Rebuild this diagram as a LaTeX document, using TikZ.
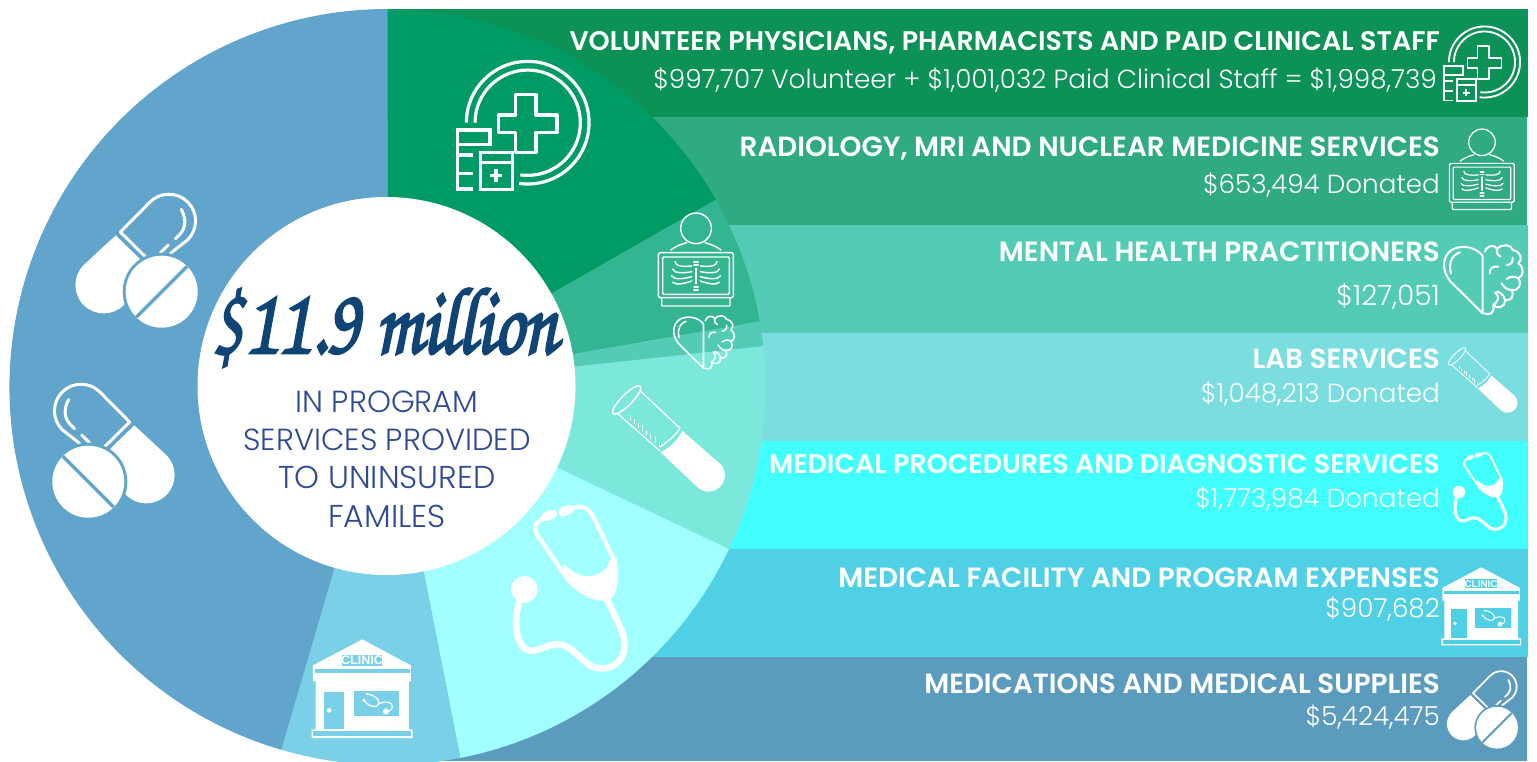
\documentclass[tikz,border=0pt]{standalone}
\usepackage{fontspec}
\setmainfont{Poppins}
\newfontfamily\headf{Poppins SemiBold}
\newfontfamily\subf{Poppins Light}
\newfontfamily\scriptf[FakeBold=3]{TeX Gyre Chorus}
\newfontfamily\clinicf{Liberation Sans Bold}
\definecolor{barA}{HTML}{0C9156}\definecolor{barB}{HTML}{2FAA82}
\definecolor{barC}{HTML}{54CCB5}\definecolor{barD}{HTML}{7ADDE0}
\definecolor{barE}{HTML}{42FFFF}\definecolor{barF}{HTML}{50D0E5}
\definecolor{barG}{HTML}{5B9CBE}
\definecolor{wedA}{HTML}{009B65}\definecolor{wedB}{HTML}{33B592}
\definecolor{wedC}{HTML}{53CBB5}\definecolor{wedD}{HTML}{7CE7DB}
\definecolor{wedE}{HTML}{A2FFFF}\definecolor{wedF}{HTML}{79D0E7}
\definecolor{wedG}{HTML}{61A4CC}
\definecolor{navy}{HTML}{0F4475}\definecolor{bluetext}{HTML}{2E4A95}
\tikzset{
  head/.style={anchor=base east,text=white,inner sep=0pt,font=\headf\fontsize{27.8}{28}\selectfont},
  headtight/.style={head,font=\headf\fontsize{26.9}{27}\selectfont},
  sub/.style={anchor=base east,text=white,inner sep=0pt,font=\subf\fontsize{26.2}{26}\selectfont},
  centretext/.style={anchor=base,text=bluetext,inner sep=0pt,font=\subf\fontsize{30.5}{30}\selectfont},
  centrewide/.style={centretext,font=\subf\fontsize{31.6}{30}\selectfont},
  iconline/.style={draw=white,fill=none,line cap=round,line join=round},
}
% #1 x, #2 y, #3 scale, #4 background colour
\newcommand{\iconcross}[4]{\begin{scope}[shift={(#1,#2)},scale=#3/3,shift={(-443,-371)},iconline,line width=#3*3.2pt]
  \draw[line cap=butt] (259,368) arc (180:458:184);
  \draw[line cap=butt] (285,368) arc (180:458:158);
  \draw (407,345) -- (407,284) -- (468,284) -- (468,345) -- (531,345) -- (531,398) -- (468,398) -- (468,458) -- (407,458) -- (407,398) -- (355,398) -- (355,345) -- cycle;
  \draw[line cap=butt,line join=miter] (280,567) -- (232,567) -- (232,390) -- (330,390) -- (330,434) -- (232,434);
  \draw[line cap=butt] (232,465) -- (280,465) (232,520) -- (280,520);
  \draw[line join=miter] (302,458) rectangle (398,568);
  \draw[line cap=butt] (302,487) -- (398,487);
  \draw[line cap=butt,line width=#3*3.4pt] (348,507) -- (348,545) (330,526) -- (366,526);
\end{scope}}
\newcommand{\iconxray}[4]{\begin{scope}[shift={(#1,#2)},scale=#3/3,shift={(-137,-165)},iconline,line width=#3*1.4pt]
  \draw (138,70) circle (46);
  \draw (62,135) .. controls (75,125) and (92,118) .. (110,113);
  \draw (213,135) .. controls (200,125) and (183,118) .. (165,113);
  \draw[rounded corners=1.5pt] (25,143) rectangle (250,278);
  \draw[rounded corners=1pt] (38,156) rectangle (238,268);
  \draw[rounded corners=1pt] (35,278) -- (35,303) -- (240,303) -- (240,278);
  \draw (138,190) -- (138,236);
  \draw[line width=#3*1.8pt] (132,172) -- (144,172) (132,181) -- (144,181) (132,246) -- (144,246) (132,256) -- (144,256);
  \foreach \m in {0,1}{\begin{scope}[shift={(276*\m,0)},xscale={1-2*\m}]
    \draw (75,170) .. controls (75,185) and (100,185) .. (125,183);
    \draw (68,192) .. controls (70,205) and (100,205) .. (125,200);
    \draw (65,212) .. controls (70,225) and (100,222) .. (125,215);
    \draw (68,232) .. controls (80,242) and (105,235) .. (125,228);
  \end{scope}}
\end{scope}}
\newcommand{\iconbrain}[4]{\begin{scope}[shift={(#1,#2)},scale=#3/3,shift={(-130,-130)},iconline,line width=#3*2pt]
  \draw (128,235) -- (32,140) .. controls (5,110) and (5,65) .. (35,45) .. controls (65,28) and (105,35) .. (128,62) -- cycle;
  \draw (33,115) .. controls (25,85) and (35,60) .. (60,52);
  \draw (135,50) .. controls (140,30) and (165,28) .. (172,42) .. controls (185,25) and (215,28) .. (218,45) .. controls (245,50) and (248,75) .. (235,85) .. controls (255,100) and (250,125) .. (235,130) .. controls (248,150) and (235,168) .. (215,165) .. controls (225,188) and (210,198) .. (195,195) .. controls (195,220) and (170,222) .. (160,210) .. controls (165,240) and (145,240) .. (133,235);
  \draw (150,115) .. controls (148,100) and (158,93) .. (175,95);
  \draw (200,90) .. controls (212,90) and (220,82) .. (218,68);
  \draw (172,42) .. controls (168,52) and (172,60) .. (182,65);
  \draw (235,130) .. controls (222,122) and (210,125) .. (200,132);
  \draw (215,165) .. controls (200,165) and (190,155) .. (185,145);
  \draw (160,210) .. controls (176,198) and (180,185) .. (165,172);
  \draw (195,195) .. controls (192,180) and (180,172) .. (172,170);
\end{scope}}
\newcommand{\icontube}[4]{\begin{scope}[shift={(#1,#2)},scale=#3/3,shift={(-210,-190)},iconline,line width=#3*1.3pt]
  \draw[rotate around={-45:(80,75)},line width=#3*1.5pt] (80,75) ellipse (58 and 16);
  \draw (52,115) -- (180,228);
  \draw (118,45) -- (240,160);
  \fill[white] (182,232) .. controls (215,215) and (235,190) .. (247,168) -- (362,268) arc (-42:138:49) -- cycle;
  \draw[line width=#3*1.2pt] (180,216) .. controls (200,203) and (225,183) .. (238,163);
  \foreach \t/\l in {0/12,1/12,2/12,3/18,4/12,5/12,6/18,7/12}{
    \draw[line width=#3*1pt] ({90+\t*12.5},{135+\t*11.2}) -- ++(0,-\l);}
\end{scope}}
\newcommand{\iconsteth}[4]{\begin{scope}[shift={(#1,#2)},scale=#3/3,shift={(-900,-320)},iconline,line width=#3*6.5pt]
  \fill[white] (763,328) circle (40);
  \draw (748,365) .. controls (725,440) and (745,520) .. (790,512) .. controls (830,505) and (850,480) .. (890,500) .. controls (930,520) and (950,570) .. (1000,565) .. controls (1060,560) and (1080,500) .. (1050,440) -- (1012,360);
  \fill[white] (885,298) .. controls (920,340) and (970,368) .. (1015,362) .. controls (1045,345) and (1050,290) .. (1040,235) -- (1018,240) .. controls (1015,270) and (980,292) .. (945,288) .. controls (920,285) and (900,270) .. (880,250) -- cycle;
  \draw[line width=#3*4.2pt] (888,290) -- (802,165) .. controls (785,140) and (800,125) .. (822,113);
  \draw[line width=#3*4.2pt] (1030,235) -- (970,110) .. controls (950,75) and (930,75) .. (895,88);
  \draw[line width=#3*9pt,line cap=round] (828,110) -- (848,102);
  \draw[line width=#3*9pt,line cap=round] (878,96) -- (898,88);
\end{scope}}
\newcommand{\iconclinic}[5]{\begin{scope}[shift={(#1,#2)},scale=#3/3,shift={(-172,-170)}]
  \fill[white] (172,22) -- (318,100) -- (318,148) -- (312,148) -- (312,292) -- (323,292) -- (323,318) -- (20,318) -- (20,292) -- (32,292) -- (32,148) -- (24,148) -- (24,100) -- cycle;
  \fill[#4] (30,112) rectangle (314,123);
  \fill[#4] (110,68) rectangle (232,102);
  \fill[#4] (58,180) rectangle (118,290);
  \fill[white] (72,235) circle (7);
  \fill[#4] (148,178) rectangle (283,252);
  \fill[#4] (25,297) rectangle (318,313);
  \pgfmathsetmacro\cf{12.5*#3}
  \node[name=#5,inner sep=0pt,text=white,font=\clinicf\fontsize{\cf}{\cf}\selectfont] at (171,85) {CLINIC};
  \begin{scope}[iconline,line width=#3*1.2pt]
    \draw (186,186) .. controls (210,188) and (225,205) .. (222,215) .. controls (215,232) and (190,222) .. (176,205);
    \draw (222,215) .. controls (240,205) and (265,210) .. (262,225) .. controls (260,235) and (252,238) .. (245,238);
  \end{scope}
  \fill[white] (243,238) circle (9) (186,186) circle (4) (177,205) circle (5);
\end{scope}}
% #1 x, #2 y, #3 scale, #4 background, #5 mirror (1 or -1)
\newcommand{\iconpill}[5]{\begin{scope}[shift={(#1,#2)},xscale=#5*#3/3,yscale=#3/3,shift={(-396,-337)}]
  \fill[white] (258,168) -- (162,257) arc (225:45:85) -- (340,290) -- (332,240) -- cycle;
  \begin{scope}[iconline,line width=#3*3pt]
    \draw (272,158) -- (361,68) arc (225:405:80) -- (422,222);
    \draw (272,158) -- (347,232);
    \draw (455,90) .. controls (475,130) and (465,155) .. (437,178);
    \draw (392,220) -- (416,197);
  \end{scope}
  \fill[#4] (396,337) circle (117);
  \fill[white] (396,337) circle (108);
  \draw[#4,line width=#3*3.4pt] (472,261) -- (320,413);
\end{scope}}
\begin{document}
\begin{tikzpicture}[x=1pt,y=1pt,yscale=-1]
\useasboundingbox (0,0) rectangle (1537,761);
\fill[white] (0,0) rectangle (1537,761);
\coordinate (C) at (387.5,387);
\fill[barA] (387,9) rectangle (1527.5,117);
\fill[barB] (387,117) rectangle (1527,225);
\fill[barC] (387,225) rectangle (1527.5,333);
\fill[barD] (387,333) rectangle (1527.5,441);
\fill[barE] (387,441) rectangle (1527.5,549);
\fill[barF] (387,549) rectangle (1527.5,657);
\fill[barG] (387,657) rectangle (1527,761);
\begin{scope}
\clip (0,0) rectangle (1537,761);
\foreach \c/\a/\b in {wedA/-90/-29.7,wedB/-29.7/-10,wedC/-10/-6.2,wedD/-6.2/25.4,wedE/25.4/78.9,wedF/78.9/106.3,wedG/106.3/270}{
  \fill[\c] (C) -- ++(\a:378) arc (\a:\b:378) -- cycle;}
\end{scope}
\fill[white] (386.5,386) circle (189);
% icons on the pie
\iconcross{527.7}{123.7}{1}{wedA}
\iconxray{695.7}{260}{1}{wedB}
\iconbrain{704}{341.3}{0.77}{wedC}
\icontube{670}{438.3}{1}{wedD}
\iconsteth{570}{586.7}{1}{wedE}
\iconclinic{362.3}{688.7}{1}{wedF}{clinicbig}
\iconpill{161.7}{291.7}{1}{wedG}{1}
\iconpill{88.3}{481.7}{1}{wedG}{-1}
% icons on the bars
\iconcross{1484.5}{62.6}{0.58}{barA}
\iconxray{1481.7}{169.7}{0.865}{barB}
\iconbrain{1483.3}{278.3}{1}{barC}
\icontube{1483.7}{380}{0.615}{barD}
\iconsteth{1480.3}{490.8}{0.47}{barE}
\iconclinic{1481.3}{606.3}{0.79}{barF}{clinicsmall}
\iconpill{1497}{727.7}{0.58}{barG}{1}
% bar texts
\node[headtight] (h1) at (1440,50.7) {VOLUNTEER PHYSICIANS, PHARMACISTS AND PAID CLINICAL STAFF};
\node[sub] (s1) at (1437,88) {\$997,707 Volunteer + \$1,001,032 Paid Clinical Staff = \$1,998,739};
\node[head] (h2) at (1440,156.7) {RADIOLOGY, MRI AND NUCLEAR MEDICINE SERVICES};
\node[sub] (s2) at (1440,193.3) {\$653,494 Donated};
\node[head] (h3) at (1440,261.7) {MENTAL HEALTH PRACTITIONERS};
\node[sub,font=\subf\fontsize{28}{28}\selectfont] (s3) at (1440,305) {\$127,051};
\node[head] (h4) at (1440,368) {LAB SERVICES};
\node[sub] (s4) at (1440,402) {\$1,048,213 Donated};
\node[headtight] (h5) at (1440,473) {MEDICAL PROCEDURES AND DIAGNOSTIC SERVICES};
\node[sub] (s5) at (1440,507) {\$1,773,984 Donated};
\node[head] (h6) at (1440,587) {MEDICAL FACILITY AND PROGRAM EXPENSES};
\node[sub] (s6) at (1440,617) {\$907,682};
\node[head] (h7) at (1440,693) {MEDICATIONS AND MEDICAL SUPPLIES};
\node[sub] (s7) at (1440,725) {\$5,424,475};
% centre
\node[anchor=base,inner sep=0pt,text=navy,font=\scriptf\fontsize{76}{76}\selectfont] (amount) at (384.5,353) {\scalebox{0.98}[1.25]{\$11.9 million}};
\node[centretext] (c1) at (387,412) {IN PROGRAM};
\node[centretext] (c2) at (387,450) {SERVICES PROVIDED};
\node[centrewide] (c3) at (387,488) {TO UNINSURED};
\node[centrewide] (c4) at (387,527) {FAMILES};
\end{tikzpicture}
\end{document}
